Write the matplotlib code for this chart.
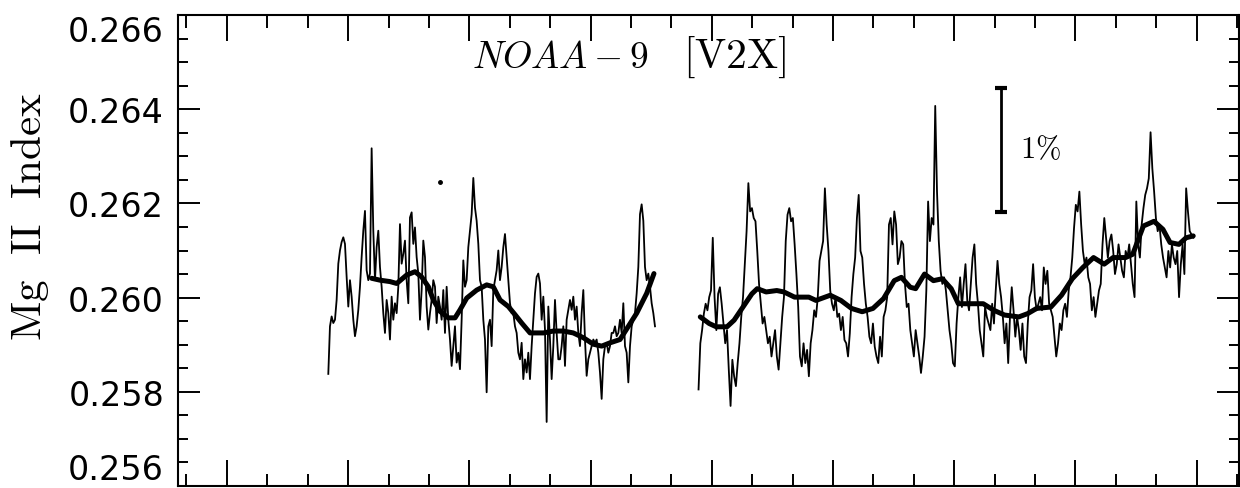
import numpy as np
import matplotlib
matplotlib.use("Agg")
import matplotlib.pyplot as plt
from matplotlib.ticker import MultipleLocator, FormatStrFormatter

plt.rcParams['font.family'] = ['DejaVu Sans']
plt.rcParams['mathtext.fontset'] = 'cm'

# daily Mg II index, first stretch (one reading every ~1.24 days)
day1_start, day1_step = 165.3, 1.2376
mg_daily_1 = [
    0.25838, 0.25939, 0.25960, 0.25946, 0.25953, 0.25995, 0.26072, 0.26100, 0.26118, 0.26128,
    0.26114, 0.26044, 0.25981, 0.26037, 0.26002, 0.25953, 0.25918, 0.25939, 0.25974, 0.26023,
    0.26086, 0.26142, 0.26184, 0.26058, 0.26037, 0.26051, 0.26317, 0.26142, 0.26037, 0.26107,
    0.26142, 0.26065, 0.26023, 0.25967, 0.25925, 0.25995, 0.25967, 0.25911, 0.26002, 0.25953,
    0.25988, 0.25967, 0.26023, 0.26156, 0.26072, 0.26093, 0.26121, 0.26037, 0.25988, 0.26170,
    0.26181, 0.26114, 0.26149, 0.26086, 0.26051, 0.25953, 0.26016, 0.26121, 0.26086, 0.25981,
    0.25932, 0.25967, 0.25995, 0.26037, 0.26023, 0.25946, 0.26002, 0.25981, 0.25953, 0.26016,
    0.25925, 0.26023, 0.25953, 0.25911, 0.25855, 0.25897, 0.25939, 0.25862, 0.25883, 0.25848,
    0.25953, 0.26079, 0.26023, 0.26037, 0.26107, 0.26142, 0.26177, 0.26254, 0.26191, 0.26163,
    0.26114, 0.26037, 0.26023, 0.25953, 0.25911, 0.25799, 0.25939, 0.25953, 0.25897, 0.26016,
    0.26037, 0.26058, 0.26100, 0.26037, 0.26065, 0.26107, 0.26135, 0.26086, 0.26037, 0.25988,
    0.25967, 0.25967, 0.25939, 0.25925, 0.25883, 0.25869, 0.25904, 0.25827, 0.25869, 0.25841,
    0.25883, 0.25827, 0.25897, 0.25953, 0.26009, 0.26044, 0.26051, 0.26030, 0.25953, 0.26002,
    0.25932, 0.25736, 0.25981, 0.25911, 0.25827, 0.25897, 0.25995, 0.25925, 0.25869, 0.25869,
    0.25897, 0.25939, 0.25855, 0.25953, 0.25974, 0.25995, 0.25974, 0.26002, 0.25953, 0.25981,
    0.25925, 0.25897, 0.25967, 0.26016, 0.25911, 0.25834, 0.25869, 0.25883, 0.25897, 0.25911,
    0.25904, 0.25911, 0.25883, 0.25841, 0.25785, 0.25869, 0.25897, 0.25904, 0.25883, 0.25897,
    0.25925, 0.25925, 0.25939, 0.25918, 0.25925, 0.25953, 0.25925, 0.25988, 0.25897, 0.25883,
    0.25820, 0.25897, 0.25939, 0.25953, 0.25967, 0.26009, 0.26065, 0.26177, 0.26198, 0.26163,
    0.26065, 0.26037, 0.26051, 0.26023, 0.25988, 0.25967, 0.25939,
]

# second stretch after the gap (one reading every ~1.32 days)
day2_start, day2_step = 440.2, 1.3214
mg_daily_2 = [
    0.25805, 0.25903, 0.25931, 0.25966, 0.25987, 0.25973, 0.26001, 0.26015, 0.26127, 0.26001,
    0.25931, 0.26008, 0.26022, 0.25987, 0.25945, 0.25903, 0.25931, 0.25847, 0.25770, 0.25868,
    0.25833, 0.25812, 0.25861, 0.25903, 0.25959, 0.26001, 0.26071, 0.26141, 0.26243, 0.26183,
    0.26190, 0.26169, 0.26162, 0.26099, 0.26029, 0.25987, 0.25945, 0.25959, 0.25931, 0.25903,
    0.25917, 0.25875, 0.25903, 0.25931, 0.25875, 0.25847, 0.25903, 0.25959, 0.26001, 0.26120,
    0.26176, 0.26190, 0.26162, 0.26169, 0.26113, 0.26050, 0.25980, 0.25875, 0.25854, 0.25903,
    0.25861, 0.25889, 0.25833, 0.25903, 0.25931, 0.25973, 0.25959, 0.26001, 0.26078, 0.26099,
    0.26120, 0.26232, 0.26155, 0.26099, 0.26015, 0.25987, 0.25973, 0.26001, 0.25959, 0.25966,
    0.25931, 0.25959, 0.25910, 0.25903, 0.25875, 0.25924, 0.26001, 0.26050, 0.26085, 0.26169,
    0.26218, 0.26099, 0.26085, 0.26029, 0.25987, 0.25959, 0.25917, 0.25903, 0.25945, 0.25896,
    0.25875, 0.25861, 0.25917, 0.25875, 0.25959, 0.25973, 0.26001, 0.26155, 0.26169, 0.26113,
    0.26183, 0.26155, 0.26071, 0.26085, 0.26120, 0.26113, 0.26029, 0.25980, 0.25987, 0.25931,
    0.25903, 0.25875, 0.25931, 0.25903, 0.25875, 0.25840, 0.25875, 0.25917, 0.26015, 0.26204,
    0.26120, 0.26169, 0.26155, 0.26407, 0.26225, 0.26120, 0.26057, 0.26029, 0.26043, 0.26015,
    0.25973, 0.25931, 0.25903, 0.25861, 0.25854, 0.25945, 0.26001, 0.26043, 0.25980, 0.26029,
    0.26071, 0.25994, 0.25973, 0.26029, 0.26085, 0.26113, 0.26029, 0.25987, 0.25931, 0.25903,
    0.25875, 0.25980, 0.25959, 0.25945, 0.25931, 0.25987, 0.25945, 0.26015, 0.26078, 0.26029,
    0.26001, 0.25959, 0.25903, 0.25945, 0.25861, 0.25959, 0.26022, 0.25973, 0.25917, 0.25959,
    0.25931, 0.25889, 0.25945, 0.25875, 0.25861, 0.25945, 0.26001, 0.26015, 0.26071, 0.26001,
    0.25973, 0.25987, 0.26001, 0.25973, 0.26064, 0.26029, 0.26057, 0.25987, 0.25973, 0.25959,
    0.25917, 0.25875, 0.25903, 0.25945, 0.25931, 0.25973, 0.25987, 0.25959, 0.26015, 0.26043,
    0.26085, 0.26148, 0.26197, 0.26183, 0.26225, 0.26155, 0.26099, 0.26071, 0.26085, 0.26043,
    0.26029, 0.25973, 0.26001, 0.25959, 0.25987, 0.26015, 0.26029, 0.26113, 0.26169, 0.26127,
    0.26085, 0.26120, 0.26134, 0.26099, 0.26050, 0.26071, 0.26113, 0.26085, 0.26057, 0.26043,
    0.26099, 0.26085, 0.26113, 0.26071, 0.26029, 0.26001, 0.26204, 0.26113, 0.26085, 0.26155,
    0.26190, 0.26218, 0.26232, 0.26253, 0.26351, 0.26274, 0.26225, 0.26169, 0.26141, 0.26155,
    0.26113, 0.26085, 0.26064, 0.26043, 0.26099, 0.26064, 0.26113, 0.26085, 0.26071, 0.26099,
    0.26001, 0.26071, 0.26113, 0.26050, 0.26232, 0.26183, 0.26141, 0.26134, 0.26127,
]

# smoothed curves
smooth1_day = [197.5, 203.7, 211.1, 216.1, 223.5, 229.7, 234.6, 239.6, 243.3, 248.2,
               254.4, 259.4, 263.1, 268.1, 275.5, 282.9, 287.8, 292.8, 299.0, 303.9,
               308.9, 315.1, 325.0, 332.4, 339.8, 347.2, 354.6, 362.1, 368.3, 374.5,
               381.9, 388.1, 394.3, 401.7, 407.1]
smooth1_mg = [0.26041, 0.26037, 0.26034, 0.26030, 0.26048, 0.26055, 0.26044, 0.26023, 0.25995, 0.25971,
              0.25957, 0.25957, 0.25974, 0.25999, 0.26016, 0.26027, 0.26023, 0.25995, 0.25981, 0.25964,
              0.25946, 0.25925, 0.25925, 0.25929, 0.25929, 0.25925, 0.25915, 0.25901, 0.25897, 0.25904,
              0.25911, 0.25939, 0.25967, 0.26009, 0.26051]

smooth2_day = [441.5, 448.1, 453.4, 461.3, 466.6, 473.2, 479.8, 483.8, 490.4, 498.3,
               503.6, 511.5, 522.1, 527.4, 538.0, 545.9, 553.8, 561.7, 569.7, 577.6,
               585.5, 590.8, 597.4, 601.4, 608.0, 614.6, 621.2, 627.8, 633.1, 641.0,
               651.6, 659.5, 667.4, 678.0, 684.6, 691.2, 701.8, 709.7, 717.7, 725.6,
               733.5, 741.4, 748.0, 757.3, 762.6, 770.5, 778.4, 785.0, 790.3, 796.9,
               802.2, 807.5]
smooth2_mg = [0.25959, 0.25945, 0.25938, 0.25938, 0.25952, 0.25980, 0.26008, 0.26019, 0.26012, 0.26015,
              0.26012, 0.26001, 0.26001, 0.25994, 0.26005, 0.25994, 0.25977, 0.25970, 0.25977, 0.25998,
              0.26036, 0.26043, 0.26022, 0.26019, 0.26050, 0.26036, 0.26040, 0.26019, 0.25987, 0.25987,
              0.25987, 0.25973, 0.25963, 0.25959, 0.25966, 0.25977, 0.25980, 0.26005, 0.26040, 0.26064,
              0.26085, 0.26071, 0.26085, 0.26085, 0.26092, 0.26152, 0.26162, 0.26145, 0.26117, 0.26113,
              0.26127, 0.26131]

# lone point above the first stretch
stray_day, stray_mg = [248.2], [0.26246]

# 1% scale bar
bar_day = 664.8
bar_lo, bar_hi = 0.26182, 0.26444

y_ticks = [0.256, 0.258, 0.260, 0.262, 0.264, 0.266]

day1 = day1_start + day1_step * np.arange(len(mg_daily_1))
day2 = day2_start + day2_step * np.arange(len(mg_daily_2))

fig = plt.figure(figsize=(12.4, 4.89), dpi=100)
ax = fig.add_axes([178 / 1240, 2 / 489, 1061 / 1240, 471 / 489])

ax.plot(day1, mg_daily_1, color='black', lw=1.3)
ax.plot(day2, mg_daily_2, color='black', lw=1.3)
ax.plot(smooth1_day, smooth1_mg, color='black', lw=3.6, solid_capstyle='round')
ax.plot(smooth2_day, smooth2_mg, color='black', lw=3.6, solid_capstyle='round')
ax.plot(stray_day, stray_mg, 'o', color='black', ms=2.5)

ax.plot([bar_day, bar_day], [bar_lo, bar_hi], color='black', lw=2,
        marker='_', ms=8, mew=3)
ax.text(0.794, 0.7155, r'$\mathrm{1\%}$', transform=ax.transAxes,
        fontsize=22, ha='left', va='center')

ax.text(0.277, 0.89, r'$NOAA-9$', transform=ax.transAxes, fontsize=27,
        ha='left', va='baseline')
ax.text(0.476, 0.89, r'$\mathrm{[V2X]}$', transform=ax.transAxes, fontsize=30,
        ha='left', va='baseline')

ax.set_xlim(53.7, 841.5)
ax.set_ylim(0.256, 0.266)
ax.xaxis.set_major_locator(MultipleLocator(90))
ax.xaxis.set_minor_locator(MultipleLocator(30))
ax.set_yticks(y_ticks)
ax.yaxis.set_minor_locator(MultipleLocator(0.0005))
ax.yaxis.set_major_formatter(FormatStrFormatter('%.3f'))

ax.tick_params(which='both', direction='in', top=True, right=True,
               labelbottom=False, width=1.4)
ax.tick_params(axis='x', which='major', length=18.5)
ax.tick_params(axis='x', which='minor', length=9)
ax.tick_params(axis='y', which='major', length=16, labelsize=24, pad=10)
ax.tick_params(axis='y', which='minor', length=7)
for sp in ax.spines.values():
    sp.set_linewidth(1.5)

# keep the end labels inside the frame, as in the original
fig.canvas.draw()
labels = ax.get_yticklabels()
labels[0].set_va('bottom')
labels[-1].set_va('top')

ax.set_ylabel(r'$\mathrm{Mg\ \ II\ \ Index}$', fontsize=31)
ax.yaxis.set_label_coords(-0.1395, 0.575)
ax.yaxis.label.set_va('center')

fig.savefig('out.png', dpi=100)
